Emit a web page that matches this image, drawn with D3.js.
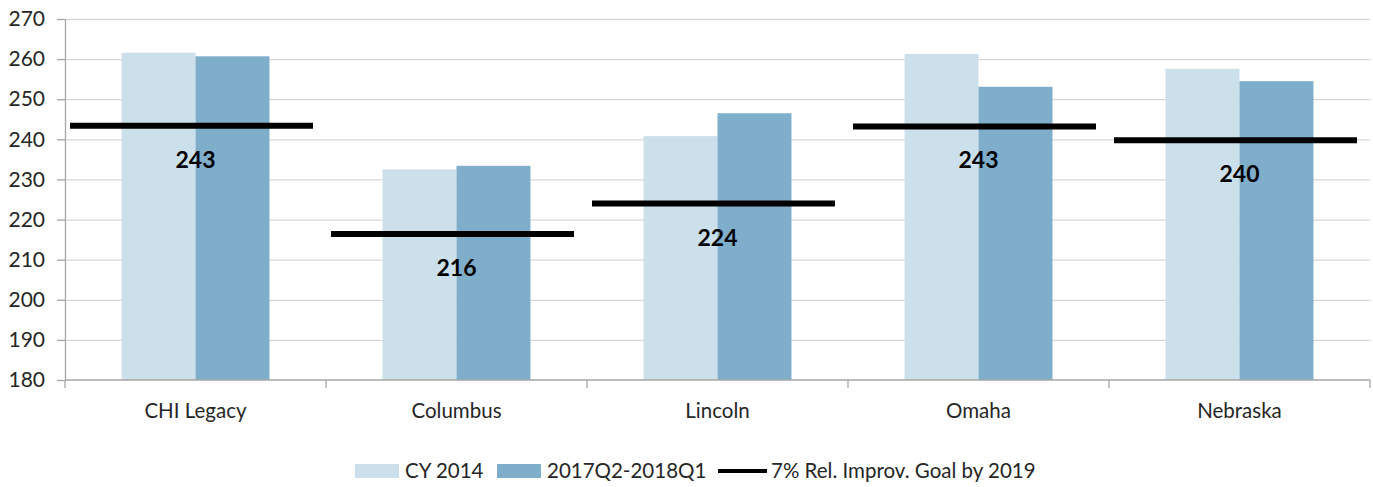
<!DOCTYPE html>
<html>
<head>
<meta charset="utf-8">
<script src="https://cdn.jsdelivr.net/npm/d3@7"></script>
<style>
  body { margin: 0; background: #fff; }
  svg { display: block; font-family: Lato, "Open Sans", sans-serif; }
</style>
</head>
<body>
<div id="chart"></div>
<script>
const categories = ["CHI Legacy", "Columbus", "Lincoln", "Omaha", "Nebraska"];
const seriesNames = ["CY 2014", "2017Q2-2018Q1"];
const cy2014 = [261.6, 232.5, 240.8, 261.3, 257.6];
const recent = [260.7, 233.4, 246.5, 253.1, 254.5];
const goals = [243.4, 216.4, 224.0, 243.2, 239.8];
const goalLabels = ["243", "216", "224", "243", "240"];
const goalName = "7% Rel. Improv. Goal by 2019";
const yTicks = [180, 190, 200, 210, 220, 230, 240, 250, 260, 270];

const width = 1373, height = 487;
const margin = ({top: 19, right: 3, bottom: 107, left: 65});
const colors = ["#cce0eb", "#7faecb"];

const svg = d3.select("#chart").append("svg")
    .attr("width", width)
    .attr("height", height)
    .attr("viewBox", [0, 0, width, height]);

const x = d3.scaleBand(categories, [margin.left, width - margin.right]).padding(0);
const xs = d3.scaleBand(seriesNames, [0, x.bandwidth()]).paddingInner(0).paddingOuter(0.764);
const y = d3.scaleLinear([180, 270], [height - margin.bottom, margin.top]);

// gridlines
svg.append("g")
    .selectAll("line")
    .data(yTicks.slice(1))
    .join("line")
        .attr("x1", margin.left)
        .attr("x2", width - margin.right)
        .attr("y1", d => y(d) + 0.5)
        .attr("y2", d => y(d) + 0.5)
        .attr("stroke", "#d9d9d9")
        .attr("stroke-width", 1.3);

// bars
const rows = categories.map((c, i) => ({cat: c, vals: [cy2014[i], recent[i]]}));
svg.append("g")
    .selectAll("g")
    .data(rows)
    .join("g")
        .attr("transform", d => `translate(${x(d.cat)},0)`)
    .selectAll("rect")
    .data(d => d.vals.map((v, j) => ({key: seriesNames[j], v, j})))
    .join("rect")
        .attr("x", d => xs(d.key))
        .attr("width", xs.bandwidth())
        .attr("y", d => y(d.v))
        .attr("height", d => y(180) - y(d.v))
        .attr("fill", d => colors[d.j]);

// y axis
const yAxis = svg.append("g")
    .attr("transform", `translate(${margin.left},0)`)
    .call(d3.axisLeft(y).tickValues(yTicks).tickSize(8).tickPadding(12).tickSizeOuter(0));
yAxis.select(".domain").attr("stroke", "#a6a6a6").attr("stroke-width", 1.3);
yAxis.selectAll(".tick line").attr("stroke", "#a6a6a6").attr("stroke-width", 1.3);
yAxis.selectAll(".tick text")
    .attr("fill", "#262626")
    .style("font-size", "21px")
    .style("font-family", "Lato, sans-serif");

// x axis
const xEdges = categories.map(c => x(c)).concat([x.range()[1]]);
const xAxisG = svg.append("g").attr("transform", `translate(0,${y(180)})`);
xAxisG.append("line")
    .attr("x1", margin.left)
    .attr("x2", width - margin.right)
    .attr("stroke", "#a6a6a6")
    .attr("stroke-width", 1.3);
xAxisG.selectAll(".edge")
    .data(xEdges)
    .join("line")
        .attr("class", "edge")
        .attr("x1", d => d)
        .attr("x2", d => d)
        .attr("y1", 0)
        .attr("y2", 8)
        .attr("stroke", "#a6a6a6")
        .attr("stroke-width", 1.3);
xAxisG.selectAll("text")
    .data(categories)
    .join("text")
        .attr("x", d => x(d) + x.bandwidth() / 2)
        .attr("y", 38)
        .attr("text-anchor", "middle")
        .attr("fill", "#262626")
        .style("font-size", "20.5px")
        .text(d => d);

// goal lines + labels
const goalG = svg.append("g");
goalG.selectAll("line")
    .data(categories)
    .join("line")
        .attr("x1", d => x(d) + 5)
        .attr("x2", d => x(d) + x.bandwidth() - 13)
        .attr("y1", (d, i) => y(goals[i]))
        .attr("y2", (d, i) => y(goals[i]))
        .attr("stroke", "#000")
        .attr("stroke-width", 6);
goalG.selectAll("text")
    .data(categories)
    .join("text")
        .attr("x", d => x(d) + x.bandwidth() / 2)
        .attr("y", (d, i) => y(goals[i]) + 42)
        .attr("text-anchor", "middle")
        .attr("font-weight", "bold")
        .attr("fill", "#000")
        .style("font-size", "23px")
        .text((d, i) => goalLabels[i]);

// legend
const legend = svg.append("g").attr("transform", "translate(0,471)");
const legendItems = [
    {name: seriesNames[0], x: 355, type: "rect", color: colors[0]},
    {name: seriesNames[1], x: 497, type: "rect", color: colors[1]},
    {name: goalName, x: 718, type: "line", color: "#000"}
];
legendItems.forEach(it => {
    const g = legend.append("g").attr("transform", `translate(${it.x},0)`);
    if (it.type === "rect") {
        g.append("rect").attr("x", 0).attr("y", -7).attr("width", 44).attr("height", 14).attr("fill", it.color);
    } else {
        g.append("line").attr("x1", 0).attr("x2", 49).attr("stroke", it.color).attr("stroke-width", 4);
    }
    g.append("text")
        .attr("x", it.type === "rect" ? 50 : 53)
        .attr("y", 0)
        .attr("dy", "0.35em")
        .attr("fill", "#262626")
        .style("font-size", "20.5px")
        .text(it.name);
});
</script>
</body>
</html>
